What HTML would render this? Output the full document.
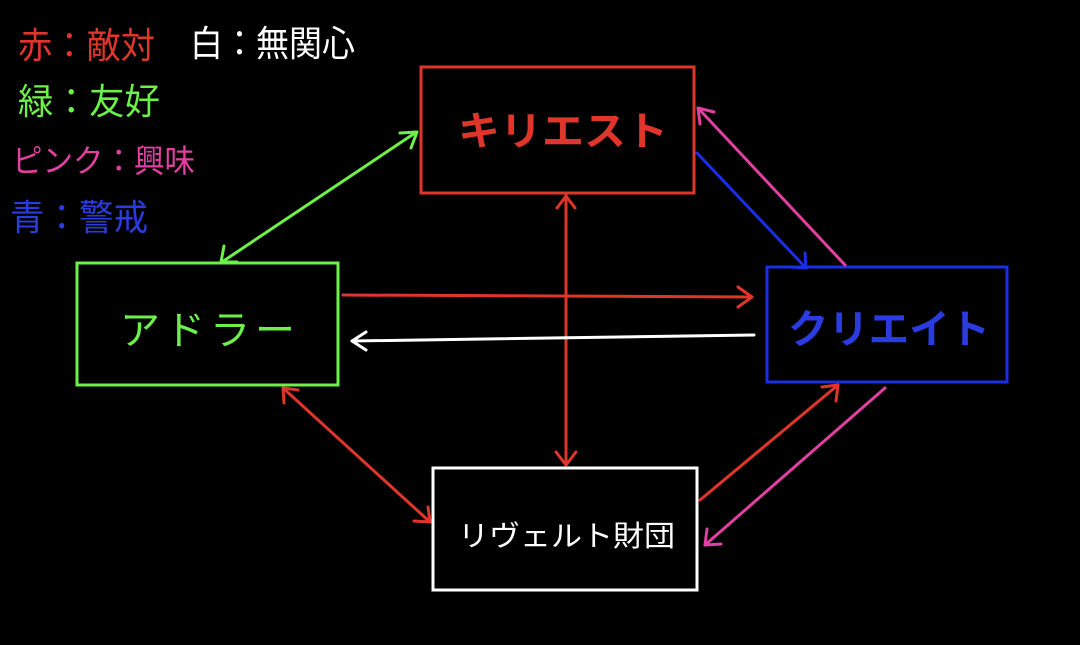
<!DOCTYPE html>
<html><head><meta charset="utf-8"><style>
html,body{margin:0;padding:0;background:#000;}
svg{display:block}
text{font-family:"Liberation Sans","Noto Sans CJK JP",sans-serif;}
</style></head><body>
<svg width="1080" height="645" viewBox="0 0 1080 645" xmlns="http://www.w3.org/2000/svg">
<rect width="1080" height="645" fill="#000"/>
<!-- legend -->
<g font-size="36">
<text x="18" y="58" fill="#e0352b" textLength="137" lengthAdjust="spacingAndGlyphs">赤：敵対</text>
<text x="190" y="56" fill="#ffffff" textLength="165" lengthAdjust="spacingAndGlyphs">白：無関心</text>
<text x="18" y="114" fill="#6ef04a" textLength="142" lengthAdjust="spacingAndGlyphs">緑：友好</text>
<text x="12" y="172" fill="#e040a0" font-size="32" textLength="183" lengthAdjust="spacingAndGlyphs">ピンク：興味</text>
<text x="10" y="230" fill="#2a3be0" textLength="138" lengthAdjust="spacingAndGlyphs">青：警戒</text>
</g>
<!-- boxes -->
<rect x="421" y="67" width="273" height="126" fill="none" stroke="#e0352b" stroke-width="3"/>
<rect x="77" y="263" width="261" height="122" fill="none" stroke="#6ef04a" stroke-width="3"/>
<rect x="767" y="267" width="240" height="115" fill="none" stroke="#1a2ee8" stroke-width="3"/>
<rect x="433" y="468" width="264" height="122" fill="none" stroke="#ffffff" stroke-width="3"/>
<text x="458" y="145" fill="#e0352b" font-size="40" font-weight="bold" textLength="210" lengthAdjust="spacingAndGlyphs">キリエスト</text>
<text x="120" y="344" fill="#6ef04a" font-size="40" textLength="175" lengthAdjust="spacing">アドラー</text>
<text x="788" y="343" fill="#2a3be0" font-size="40" font-weight="bold" textLength="202" lengthAdjust="spacingAndGlyphs">クリエイト</text>
<text x="458" y="546" fill="#ffffff" font-size="29" textLength="217" lengthAdjust="spacingAndGlyphs">リヴェルト財団</text>
<!-- arrows -->
<g fill="none" stroke-width="3" stroke-linecap="round" stroke-linejoin="round">
<g stroke="#6ef04a">
<line x1="415" y1="133" x2="222" y2="262"/>
<path d="M400,133 L417,132 L411,148"/>
<path d="M224,246 L221,262 L237,262"/>
</g>
<g stroke="#e0352b">
<line x1="566" y1="195" x2="566" y2="465"/>
<path d="M557,208 L566,196 L575,208"/>
<path d="M556,452 L566,465 L576,452"/>
<line x1="343" y1="295" x2="752" y2="297"/>
<path d="M738,287 L752,297 L738,307"/>
<line x1="283" y1="388" x2="430" y2="522"/>
<path d="M284,403 L283,388 L298,390"/>
<path d="M414,521 L430,522 L428,507"/>
<line x1="700" y1="500" x2="838" y2="385"/>
<path d="M822,387 L838,385 L836,401"/>
</g>
<g stroke="#ffffff">
<line x1="754" y1="335" x2="352" y2="341"/>
<path d="M366,332 L352,341 L366,350"/>
</g>
<g stroke="#1a2ee8">
<line x1="697" y1="153" x2="806" y2="268"/>
<path d="M805,253 L806,268 L791,267"/>
</g>
<g stroke="#e040a0">
<line x1="845" y1="265" x2="698" y2="108"/>
<path d="M700,124 L698,108 L714,112"/>
<line x1="885" y1="388" x2="705" y2="545"/>
<path d="M707,529 L705,545 L721,544"/>
</g>
</g>
</svg>
</body></html>
